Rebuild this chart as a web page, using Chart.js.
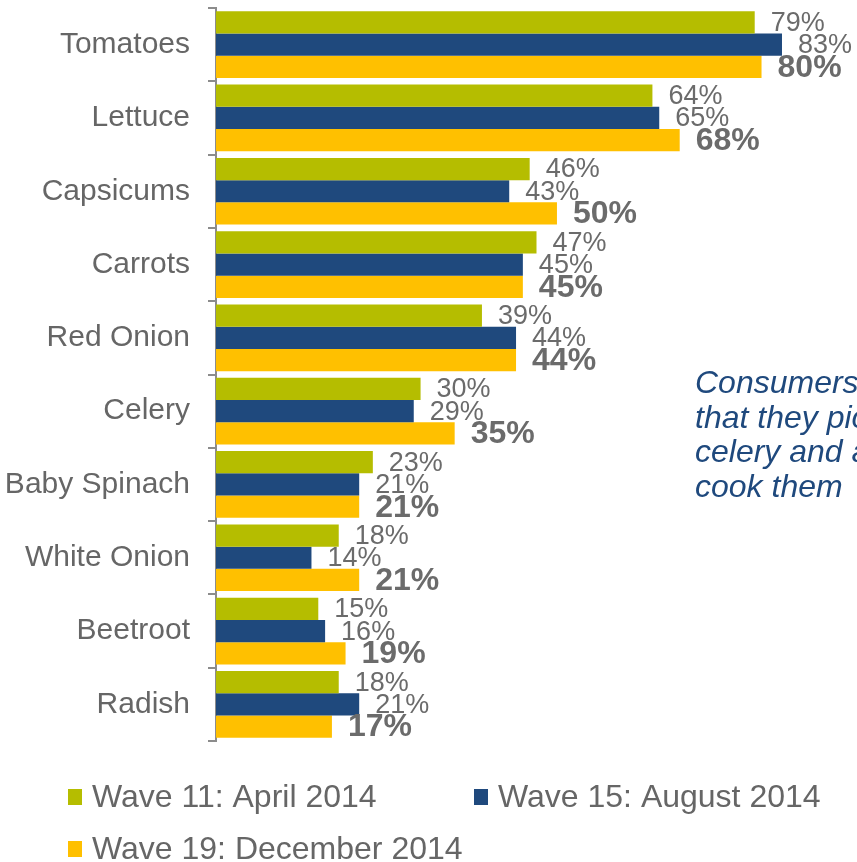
<!DOCTYPE html>
<html>
<head>
<meta charset="utf-8">
<script src="https://cdn.jsdelivr.net/npm/chart.js@4/dist/chart.umd.min.js"></script>
<style>
    html, body { margin: 0; padding: 0; background: #fff; }
    #wrap { width: 857px; height: 862px; position: relative; }
</style>
</head>
<body>
<div id="wrap"><canvas id="chart-veg"></canvas></div>
<script>
var categories = ["Tomatoes", "Lettuce", "Capsicums", "Carrots", "Red Onion",
                  "Celery", "Baby Spinach", "White Onion", "Beetroot", "Radish"];
var wave11 = [79, 64, 46, 47, 39, 30, 23, 18, 15, 18];
var wave15 = [83, 65, 43, 45, 44, 29, 21, 14, 16, 21];
var wave19 = [80, 68, 50, 45, 44, 35, 21, 21, 19, 17];
var seriesNames = ["Wave 11: April 2014", "Wave 15: August 2014", "Wave 19: December 2014"];
var noteLines = ["Consumers say", "that they pick", "celery and add", "cook them"];

var FONT = "'Liberation Sans', Arial, sans-serif";
var GREY = "#666666";

// value labels to the right of each bar, latest wave in bold
var valueLabels = {
    id: "valueLabels",
    afterDatasetsDraw: function (chart) {
        var ctx = chart.ctx;
        chart.data.datasets.forEach(function (ds, i) {
            var meta = chart.getDatasetMeta(i);
            ctx.save();
            ctx.font = (i === 2 ? "bold 32px " : "27px ") + FONT;
            ctx.fillStyle = "#6b6b6b";
            ctx.textBaseline = "middle";
            ctx.textAlign = "left";
            meta.data.forEach(function (bar, j) {
                ctx.fillText(ds.data[j] + "%", bar.x + 16, bar.y + 1);
            });
            ctx.restore();
        });
    }
};

// italic side note, runs off the right edge
var sideNote = {
    id: "sideNote",
    afterDraw: function (chart) {
        var ctx = chart.ctx;
        ctx.save();
        ctx.font = "italic 32px " + FONT;
        ctx.fillStyle = "#1F497D";
        ctx.textBaseline = "alphabetic";
        noteLines.forEach(function (line, k) {
            ctx.fillText(line, 695, 393 + k * 34.6);
        });
        ctx.restore();
    }
};

// legend in two left-aligned rows
var legendRows = {
    id: "legendRows",
    afterDraw: function (chart) {
        var ctx = chart.ctx;
        var spots = [[68, 797], [474, 797], [68, 849]];
        ctx.save();
        ctx.font = "32px " + FONT;
        ctx.textBaseline = "middle";
        chart.data.datasets.forEach(function (ds, i) {
            var p = spots[i];
            ctx.fillStyle = ds.backgroundColor;
            ctx.fillRect(p[0], p[1] - 8, 14, 16);
            ctx.fillStyle = GREY;
            ctx.fillText(ds.label, p[0] + 24, p[1] + 1);
        });
        ctx.restore();
    }
};

var ctx = document.getElementById("chart-veg").getContext("2d");

new Chart(ctx, {
    type: "bar",
    data: {
        labels: categories,
        datasets: [
            { label: seriesNames[0], data: wave11, backgroundColor: "#B5BD00" },
            { label: seriesNames[1], data: wave15, backgroundColor: "#1F497D" },
            { label: seriesNames[2], data: wave19, backgroundColor: "#FFC000" }
        ]
    },
    options: {
        indexAxis: "y",
        responsive: true,
        maintainAspectRatio: false,
        animation: false,
        datasets: {
            bar: {
                barPercentage: 1,
                categoryPercentage: 0.91,
                borderWidth: 0
            }
        },
        layout: {
            padding: { top: 8, bottom: 121, left: 0, right: 0 }
        },
        plugins: {
            legend: { display: false },
            tooltip: { enabled: false }
        },
        scales: {
            x: {
                display: false,
                min: 0,
                max: 94
            },
            y: {
                position: "left",
                afterFit: function (scale) {
                    scale.width = 216;
                    scale.paddingTop = 0;
                    scale.paddingBottom = 0;
                },
                grid: {
                    offset: true,
                    drawOnChartArea: false,
                    drawTicks: true,
                    tickLength: 8,
                    color: "#8c8c8c",
                    lineWidth: 2
                },
                border: { display: true, color: "#8c8c8c", width: 2 },
                ticks: {
                    padding: 18,
                    color: GREY,
                    font: { size: 30, family: FONT }
                }
            }
        }
    },
    plugins: [valueLabels, sideNote, legendRows]
});
</script>
</body>
</html>
